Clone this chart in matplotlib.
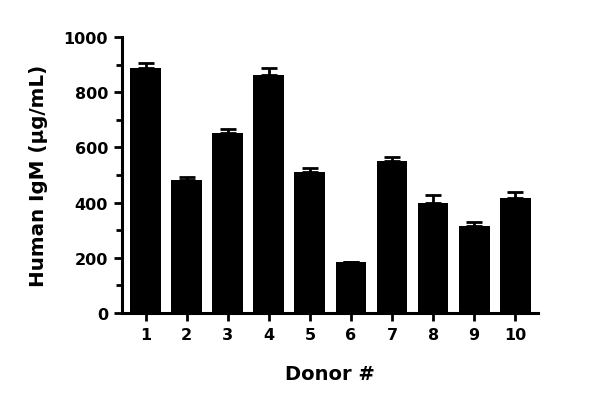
import matplotlib
matplotlib.use("Agg")
import matplotlib.pyplot as plt
from matplotlib.ticker import MultipleLocator

donors = ["1", "2", "3", "4", "5", "6", "7", "8", "9", "10"]
igm_mean = [888, 482, 653, 863, 512, 184, 552, 397, 316, 417]
igm_err = [18, 12, 14, 25, 12, 0, 15, 31, 13, 22]

plt.rcParams['font.family'] = ['DejaVu Sans']
plt.rcParams['font.weight'] = 'bold'

fig = plt.figure(figsize=(6.0, 4.06), dpi=100)
ax = fig.add_axes([0.203, 0.2266, 0.694, 0.6794])

x = list(range(1, len(donors) + 1))
ax.bar(x, igm_mean, width=0.75, color='black', zorder=2)
ax.errorbar(x, igm_mean, yerr=[[0]*len(x), igm_err], fmt='none', ecolor='black',
            elinewidth=2, capsize=6, capthick=2, zorder=1)

ax.set_xlim(0.42, 10.56)
ax.set_ylim(0, 1000)
ax.set_xticks(x)
ax.set_xticklabels(donors)
ax.yaxis.set_major_locator(MultipleLocator(200))
ax.yaxis.set_minor_locator(MultipleLocator(100))

for s in ['top', 'right']:
    ax.spines[s].set_visible(False)
for s in ['left', 'bottom']:
    ax.spines[s].set_linewidth(2.2)

ax.tick_params(axis='both', which='major', length=6, width=2, labelsize=11.5, pad=4)
ax.tick_params(axis='y', which='minor', length=4, width=2)
for lab in ax.get_xticklabels() + ax.get_yticklabels():
    lab.set_fontweight('bold')

ax.set_xlabel("Donor #", fontsize=14, fontweight='bold', labelpad=16)
ax.set_ylabel("Human IgM (μg/mL)", fontsize=14.3, fontweight='bold', labelpad=11)

fig.savefig("out.png", dpi=100)
